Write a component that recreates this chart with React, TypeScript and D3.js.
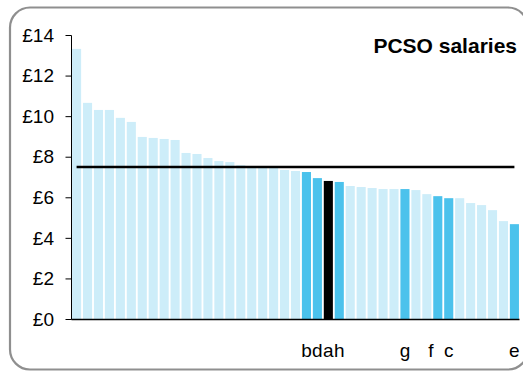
import React from "react";
import * as d3 from "d3";

const labels = ["", "", "", "", "", "", "", "", "", "", "", "", "", "", "", "", "", "", "", "", "", "b", "d", "a", "h", "", "", "", "", "", "g", "", "", "f", "c", "", "", "", "", "", "e"];
const values = [13.34, 10.68, 10.33, 10.33, 9.94, 9.74, 9.0, 8.95, 8.9, 8.85, 8.21, 8.16, 7.96, 7.81, 7.76, 7.61, 7.56, 7.53, 7.5, 7.37, 7.32, 7.27, 6.97, 6.83, 6.78, 6.58, 6.53, 6.48, 6.43, 6.43, 6.43, 6.38, 6.18, 6.08, 5.98, 5.98, 5.74, 5.64, 5.39, 4.85, 4.7];
const kinds = ["l", "l", "l", "l", "l", "l", "l", "l", "l", "l", "l", "l", "l", "l", "l", "l", "l", "l", "l", "l", "l", "b", "b", "k", "b", "l", "l", "l", "l", "l", "b", "l", "l", "b", "b", "l", "l", "l", "l", "l", "b"];
const average = 7.52;
const yTicks = [0, 2, 4, 6, 8, 10, 12, 14];
const title = "PCSO salaries";

const colorOf: Record<string, string> = { l: "#CDEDF9", b: "#4BC2EC", k: "#000000" };

export default function App() {
  const W = 523, H = 371;
  const ids = values.map((_, i) => String(i));
  const x = d3.scaleBand().domain(ids).range([71.5, 519.5]).paddingInner(0.17).paddingOuter(0.05);
  const y = d3.scaleLinear().domain([0, 14]).range([319.5, 35.5]);
  const font = "'Liberation Sans', Arial, sans-serif";
  const x0 = (x("0") as number) + x.bandwidth() / 2;
  const x1 = (x(String(values.length - 1)) as number) + x.bandwidth() / 2;
  return (
    <svg width={W} height={H} style={{ position: "absolute", left: 0, top: 0 }} fontFamily={font}>
      <rect x={0} y={0} width={W} height={H} fill="#fff" />
      <rect x={10} y={7.5} width={518} height={362} rx={20} ry={20} fill="#fff" stroke="#8f8f8f" strokeWidth={2.2} />
      {values.map((v, i) => (
        <rect key={i} x={x(String(i))} y={y(v)} width={x.bandwidth()} height={y(0) - y(v)} fill={colorOf[kinds[i]]} />
      ))}
      <line x1={x0} x2={x1} y1={y(average)} y2={y(average)} stroke="#000" strokeWidth={2.6} />
      <line x1={71.5} x2={71.5} y1={y(14)} y2={y(0)} stroke="#000" strokeWidth={1} />
      <line x1={71.5} x2={519.5} y1={y(0)} y2={y(0)} stroke="#000" strokeWidth={1.3} />
      {yTicks.map((t) => (
        <g key={t}>
          <line x1={65.5} x2={71.5} y1={y(t)} y2={y(t)} stroke="#000" strokeWidth={1} />
          <text x={54} y={y(t)} dy="0.33em" textAnchor="end" fontSize={19} fill="#000">£{t}</text>
        </g>
      ))}
      {labels.map((l, i) =>
        l ? (
          <text key={i} x={(x(String(i)) as number) + x.bandwidth() / 2} y={356.5} textAnchor="middle" fontSize={19} fill="#000" dx={l === "f" ? -7 : 0}>
            {l}
          </text>
        ) : null
      )}
      <text x={517} y={52.5} textAnchor="end" fontSize={21} fontWeight="bold" fill="#000">{title}</text>
    </svg>
  );
}
